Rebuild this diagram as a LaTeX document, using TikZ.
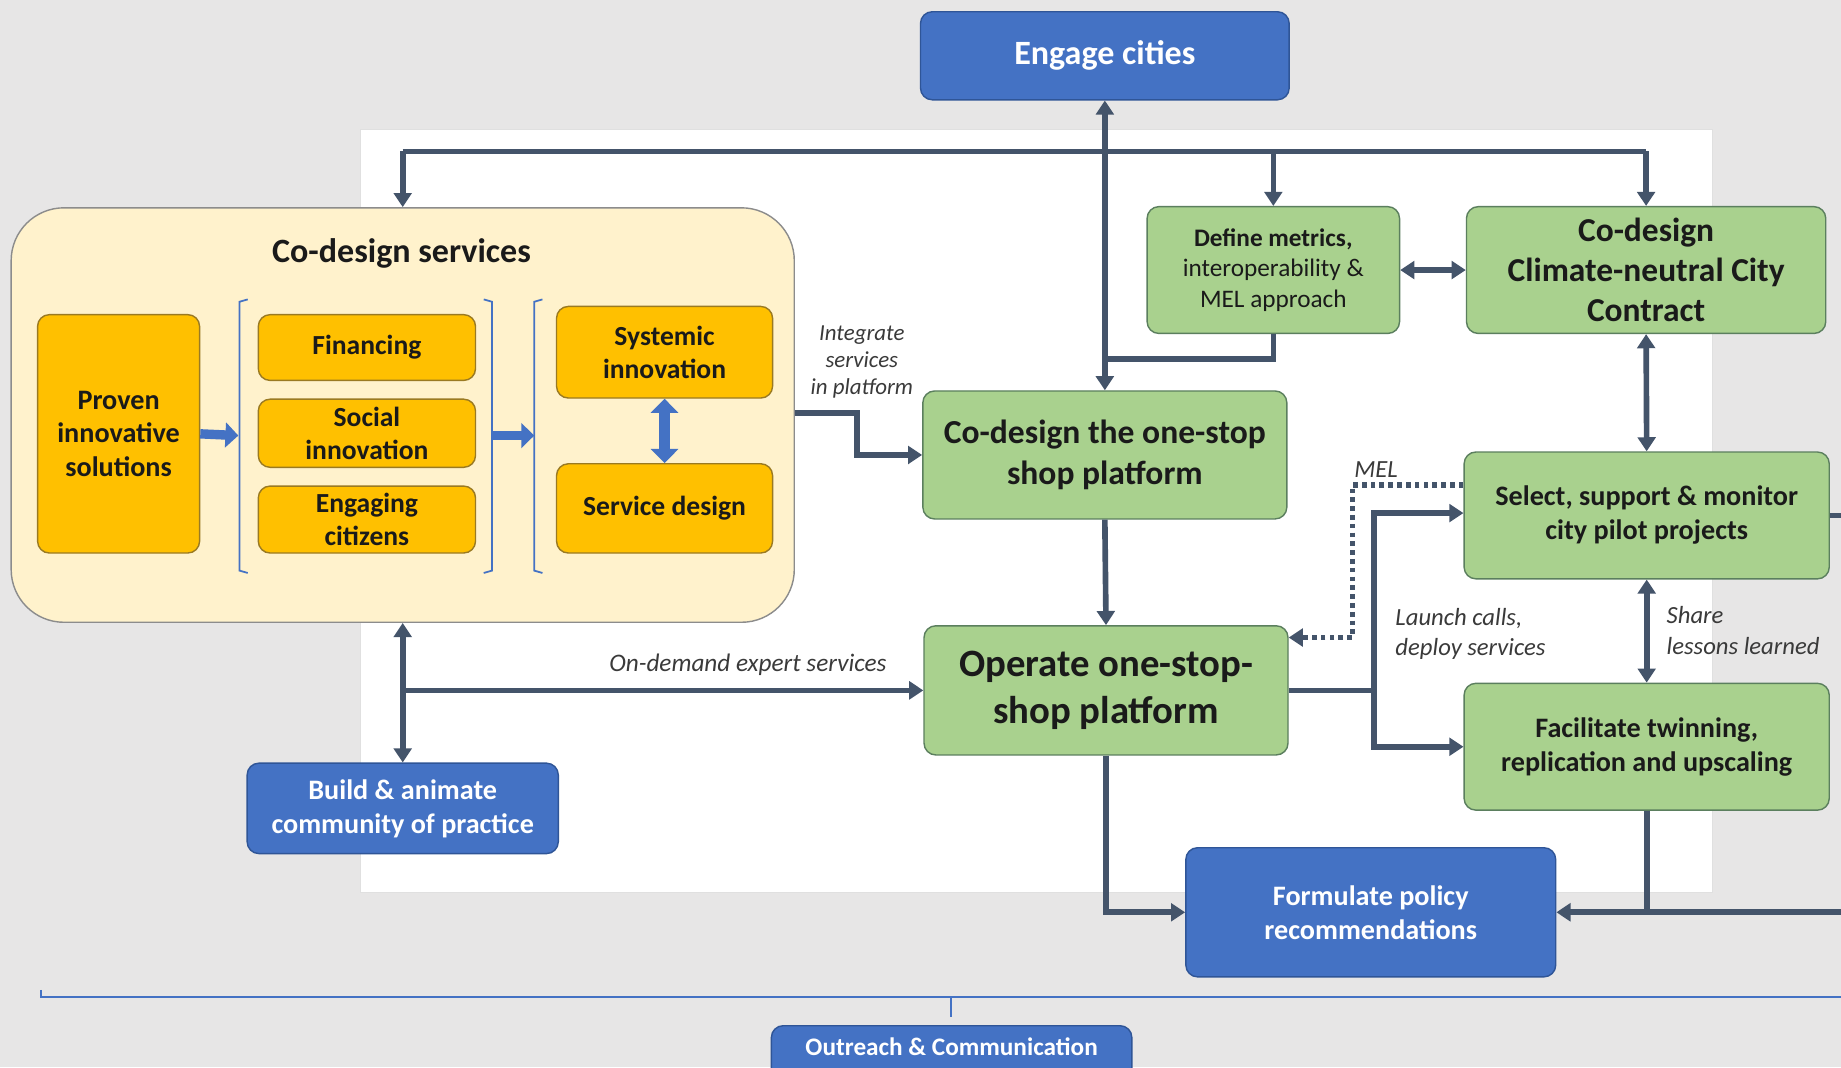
\documentclass[tikz,border=0pt]{standalone}
\usepackage{fontspec}
\setmainfont{Carlito}
\usetikzlibrary{arrows.meta}

\begin{document}
\begin{tikzpicture}[x=1pt,y=-1pt,
	box/.style={rectangle, rounded corners=10pt, line width=1.2, align=center, inner sep=2pt},
	bluebox/.style={box, fill=cBlue, draw=cBlueEdge, text=white},
	greenbox/.style={box, fill=cGreen, draw=cGreenEdge, text=cText},
	orangebox/.style={box, fill=cOrange, draw=cOrangeEdge, text=cText},
	flow/.style={cFlow, line width=4.8},
	tip/.style={-{Triangle[length=12pt,width=15pt]}},
	tips/.style={{Triangle[length=12pt,width=15pt]}-{Triangle[length=12pt,width=15pt]}},
	note/.style={text=cLabel, align=center}
]
	\definecolor{cBack}{HTML}{E7E6E6}
	\definecolor{cBlue}{HTML}{4472C4}
	\definecolor{cBlueEdge}{HTML}{2F5597}
	\definecolor{cOrange}{HTML}{FFC000}
	\definecolor{cOrangeEdge}{HTML}{9A7A22}
	\definecolor{cYellow}{HTML}{FFF2CC}
	\definecolor{cGreen}{HTML}{A9D18E}
	\definecolor{cGreenEdge}{HTML}{5B7F5E}
	\definecolor{cFlow}{HTML}{44546A}
	\definecolor{cText}{HTML}{1A1A1A}
	\definecolor{cLabel}{HTML}{3A3A3A}

	\clip (0,0) rectangle (1568,909);
	\fill[cBack] (0,0) rectangle (1568,909);
	\fill[white, draw=black!12] (307,110) rectangle (1458,760);

	% co-design services block
	\node[box, rounded corners=45pt, fill=cYellow, draw=black!45, minimum width=667, minimum height=353] (cds) at (343,353.5) {};
	\node[text=cText, font=\bfseries\fontsize{29}{34}\selectfont] (cdsTitle) at (342,216) {Co-design services};
	\node[orangebox, minimum width=138, minimum height=203, font=\bfseries\fontsize{24}{28.5}\selectfont] (proven) at (101,369.5) {Proven\\innovative\\solutions};
	\node[orangebox, minimum width=185, minimum height=56, font=\bfseries\fontsize{23.5}{28}\selectfont] (financing) at (312.5,296) {Financing};
	\node[orangebox, minimum width=185, minimum height=58, font=\bfseries\fontsize{23.5}{28}\selectfont] (social) at (312.5,369) {Social\\innovation};
	\node[orangebox, minimum width=185, minimum height=57, font=\bfseries\fontsize{23.5}{28}\selectfont] (engaging) at (312.5,442.5) {Engaging\\citizens};
	\node[orangebox, minimum width=184, minimum height=78, font=\bfseries\fontsize{23.5}{28}\selectfont] (systemic) at (566,300) {Systemic\\innovation};
	\node[orangebox, minimum width=184, minimum height=76, font=\bfseries\fontsize{23.5}{28}\selectfont] (servdesign) at (566,433) {Service design};

	\draw[cBlue, line width=1.5] (211,255) -- (204,257) -- (204,486) -- (211,488);
	\draw[cBlue, line width=1.5] (412,255) -- (419,257) -- (419,486) -- (412,488);
	\draw[cBlue, line width=1.5] (462,255) -- (455,257) -- (455,486) -- (462,488);
	\coordinate (bracketA) at (203,371);
	\coordinate (bracketB) at (455,371);
	\draw[cBlue, line width=8, -{Triangle[length=11pt,width=21pt]}] (proven.east) -- (bracketA);
	\draw[cBlue, line width=8, -{Triangle[length=11pt,width=21pt]}] (419,371) -- (bracketB);
	\draw[cBlue, line width=9, {Triangle[length=12pt,width=23pt]}-{Triangle[length=12pt,width=23pt]}] (systemic.south) -- (servdesign.north);

	% main boxes
	\node[bluebox, minimum width=314, minimum height=75, font=\bfseries\fontsize{29}{34}\selectfont] (engage) at (941,47.5) {Engage cities};
	\node[greenbox, minimum width=215, minimum height=108, font=\fontsize{21.5}{26}\selectfont] (metrics) at (1084.5,230) {\textbf{Define metrics,}\\interoperability \&\\MEL approach};
	\node[greenbox, minimum width=306, minimum height=108, font=\bfseries\fontsize{28.5}{34}\selectfont] (contract) at (1402,230) {Co-design\\Climate-neutral City\\Contract};
	\node[greenbox, minimum width=310, minimum height=109, font=\bfseries\fontsize{28.6}{35}\selectfont] (platform) at (941,387.5) {Co-design the one-stop\\shop platform};
	\node[greenbox, minimum width=311, minimum height=108, font=\bfseries\fontsize{24}{29}\selectfont] (select) at (1402.5,439) {Select, support \& monitor\\city pilot projects};
	\node[greenbox, minimum width=310, minimum height=110, font=\bfseries\fontsize{33}{40}\selectfont] (operate) at (942,588) {Operate one-stop-\\shop platform};
	\node[greenbox, minimum width=311, minimum height=108, font=\bfseries\fontsize{24}{29}\selectfont] (twinning) at (1402.5,636) {Facilitate twinning,\\replication and upscaling};
	\node[bluebox, minimum width=265, minimum height=77, font=\bfseries\fontsize{24}{29}\selectfont] (community) at (343,688.5) {Build \& animate\\community of practice};
	\node[bluebox, minimum width=315, minimum height=110, font=\bfseries\fontsize{24}{29}\selectfont] (policy) at (1167.5,777) {Formulate policy\\recommendations};
	\node[bluebox, minimum width=307, minimum height=52, anchor=north, font=\bfseries\fontsize{21.5}{24}\selectfont, text depth=16pt] (outreach) at (810.5,873) {Outreach \& Communication};

	% outreach bracket
	\draw[cBlue, line width=1.5] (35,843) -- (35,849) -- (1568,849);
	\draw[cBlue, line width=1.5] (810,849) -- (810,866);

	% top bus
	\coordinate (busL) at (343,129);
	\coordinate (busR) at (1402,129);
	\draw[flow] (busL) -- (busR);
	\draw[flow, tip] (busL) -- (cds.north);
	\draw[flow, tip] (metrics.north |- busL) -- (metrics.north);
	\draw[flow, tip] (busR) -- (contract.north);
	\draw[flow, tips] (platform.north) -- (engage.south);
	\coordinate (mjoin) at (941,306);
	\draw[flow] (metrics.south) |- (mjoin);
	\draw[flow, tips] (metrics.east) -- (contract.west);
	\draw[flow, tips] (contract.south) -- (select.north);

	% platform flows
	\draw[flow, tip] (cds.east |- 0,352) -- (730,352) |- (platform.west);
	\node[note, font=\itshape\fontsize{19.5}{23}\selectfont] (integrate) at (734,308) {Integrate\\services\\in platform};
	\draw[flow, tip] (platform.south) -- (operate.north);
	\coordinate (mel) at (1152,543);
	\draw[flow, dash pattern=on 4pt off 3.5pt, tip] ([yshift=26pt]select.west) -| (mel) -- (operate.east |- mel);
	\node[note, font=\itshape\fontsize{21}{23}\selectfont] (melLabel) at (1172,400) {MEL};
	\coordinate (split) at (1170,588);
	\draw[flow] (operate.east |- split) -- (split);
	\draw[flow, tip] (split) |- ([yshift=2pt]select.west);
	\draw[flow, tip] (split) |- (twinning.west);
	\node[note, anchor=west, align=left, font=\itshape\fontsize{21}{25}\selectfont] (launch) at (1185,540) {Launch calls,\\deploy services};
	\draw[flow, tips] (select.south) -- (twinning.north);
	\node[note, anchor=west, align=left, font=\itshape\fontsize{21}{26}\selectfont] (share) at (1416,537) {Share\\lessons learned};

	% policy flows
	\coordinate (rightT) at (1568,439);
	\coordinate (rightB) at (1568,777);
	\draw[flow] (select.east) -- (rightT);
	\draw[flow, tip] (operate.south) |- (policy.west);
	\draw[flow, tip] (rightB) -- (policy.east);
	\draw[flow] (twinning.south) -- (twinning.south |- policy.east);

	% community flows
	\draw[flow, tips] (cds.south) -- (community.north);
	\coordinate (odj) at (343,588);
	\draw[flow, tip] (odj) -- (operate.west |- odj);
	\node[note, font=\itshape\fontsize{21.5}{24}\selectfont] (ondemand) at (637,566) {On-demand expert services};
\end{tikzpicture}
\end{document}
